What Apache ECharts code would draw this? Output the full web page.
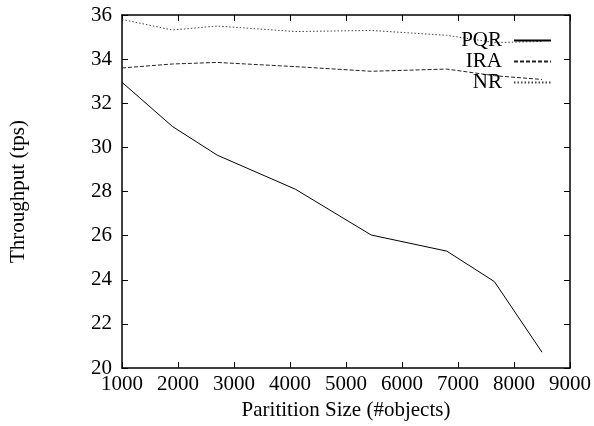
<!DOCTYPE html>
<html>
<head>
<meta charset="utf-8">
<script src="https://cdn.jsdelivr.net/npm/echarts@6/dist/echarts.min.js"></script>
<style>
  html, body { margin: 0; padding: 0; background: #fff; }
  #main { width: 594px; height: 426px; }
</style>
</head>
<body>
<div id="main"></div>
<script>
// partition sizes (#objects)
var partitionSizes = [1000, 1900, 2700, 4100, 5450, 6800, 7650, 8500];
// throughput (tps)
var pqr = [32.95, 30.95, 29.65, 28.1, 26.03, 25.3, 23.92, 20.72];
var ira = [33.6, 33.78, 33.85, 33.66, 33.45, 33.55, 33.25, 33.08];
var nr = [35.8, 35.32, 35.5, 35.25, 35.3, 35.08, 34.75, 34.8];

function pairs(ys) {
  return partitionSizes.map(function (x, i) { return [x, ys[i]]; });
}

var chartDom = document.getElementById('main');
var myChart = echarts.init(chartDom);

var font = 'Liberation Serif';
var black = '#000';
var fs = 21;

var option = {
  animation: false,
  textStyle: { fontFamily: font },
  grid: {
    left: 122,
    right: 24,
    top: 15,
    bottom: 57
  },
  legend: {
    orient: 'vertical',
    align: 'right',
    right: 42,
    top: 30,
    padding: 0,
    itemWidth: 37,
    itemHeight: 10,
    itemGap: 0,
    itemStyle: { opacity: 0 },
    textStyle: {
      fontFamily: font,
      fontSize: fs,
      color: black,
      padding: [0, 7, 0, 0]
    },
    data: ['PQR', 'IRA', 'NR']
  },
  xAxis: [
    {
      type: 'value',
      min: 1000,
      max: 9000,
      interval: 1000,
      name: 'Paritition Size (#objects)',
      nameLocation: 'middle',
      nameGap: 28,
      nameTextStyle: { fontFamily: font, fontSize: fs, color: black },
      axisLine: { lineStyle: { color: black, width: 1.5 } },
      axisTick: { inside: true, length: 6, lineStyle: { color: black } },
      axisLabel: {
        fontFamily: font, fontSize: fs, color: black, margin: 6,
        formatter: function (v) { return String(v); }
      },
      splitLine: { show: false }
    },
    {
      type: 'value',
      position: 'top',
      min: 1000,
      max: 9000,
      interval: 1000,
      axisLine: { lineStyle: { color: black, width: 1.5 } },
      axisTick: { inside: true, length: 6, lineStyle: { color: black } },
      axisLabel: { show: false },
      splitLine: { show: false }
    }
  ],
  yAxis: [
    {
      type: 'value',
      min: 20,
      max: 36,
      interval: 2,
      name: 'Throughput (tps)',
      nameLocation: 'middle',
      nameRotate: 90,
      nameGap: 93,
      nameTextStyle: { fontFamily: font, fontSize: fs, color: black },
      axisLine: { show: true, lineStyle: { color: black, width: 1.5 } },
      axisTick: { show: true, inside: true, length: 6, lineStyle: { color: black } },
      axisLabel: { fontFamily: font, fontSize: fs, color: black, margin: 10 },
      splitLine: { show: false }
    },
    {
      type: 'value',
      position: 'right',
      min: 20,
      max: 36,
      interval: 2,
      axisLine: { show: true, lineStyle: { color: black, width: 1.5 } },
      axisTick: { show: true, inside: true, length: 6, lineStyle: { color: black } },
      axisLabel: { show: false },
      splitLine: { show: false }
    }
  ],
  series: [
    {
      name: 'PQR',
      type: 'line',
      data: pairs(pqr),
      symbol: 'none',
      itemStyle: { color: black },
      lineStyle: { color: black, width: 1 }
    },
    {
      name: 'IRA',
      type: 'line',
      data: pairs(ira),
      symbol: 'none',
      itemStyle: { color: black },
      lineStyle: { color: '#222', width: 1, type: [4, 2] }
    },
    {
      name: 'NR',
      type: 'line',
      data: pairs(nr),
      symbol: 'none',
      itemStyle: { color: '#444' },
      lineStyle: { color: '#444', width: 1, type: [1.5, 2] }
    }
  ]
};

option && myChart.setOption(option);
</script>
</body>
</html>
